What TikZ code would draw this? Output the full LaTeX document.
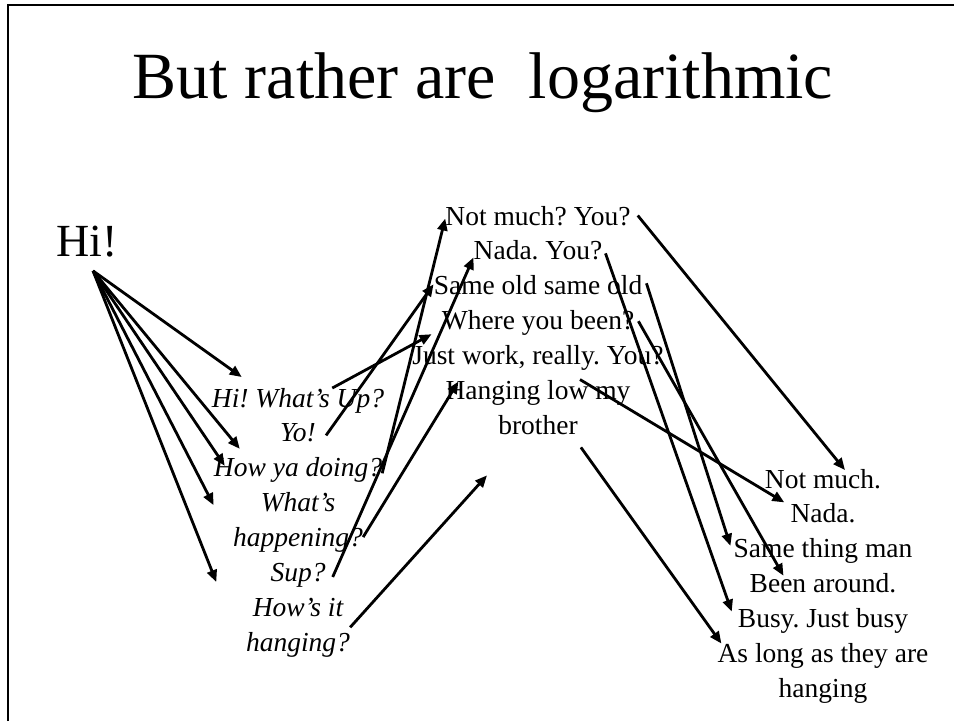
\documentclass[tikz,border=0pt]{standalone}
\usepackage{fontspec}
\setmainfont{Liberation Serif}
\usetikzlibrary{arrows.meta,positioning}
\frenchspacing

\begin{document}
\begin{tikzpicture}[
  x=1pt, y=-1pt,
  reply/.style={text height=20pt, text depth=7pt, inner xsep=0pt, inner ysep=3.75pt, font=\fontsize{27.5}{32}\selectfont},
  ask/.style={reply, font=\fontsize{27.5}{32}\selectfont\itshape},
  arrow/.style={-{Triangle[length=12pt,width=10pt]}, line width=2.8pt}
]
\useasboundingbox (0,0) rectangle (954,721);
\draw[line width=2.8pt] (8,721) -- (8,5) -- (954,5);

\node[anchor=base, font=\fontsize{66}{72}\selectfont] (title) at (483,98) {But rather are\ \ logarithmic};
\node[anchor=base, inner sep=0pt, font=\fontsize{46}{50}\selectfont] (hi) at (87,256) {Hi!};

\node[ask] (hwu) at (298,400.5) {Hi! What’s Up?};
\node[ask, below=0pt of hwu] (yo) {Yo!};
\node[ask, below=0pt of yo] (hyd) {How ya doing?};
\node[ask, below=0pt of hyd] (what) {What’s};
\node[ask, below=0pt of what] (happ) {happening?};
\node[ask, below=0pt of happ] (sup) {Sup?};
\node[ask, below=0pt of sup] (hows) {How’s it};
\node[ask, below=0pt of hows] (hang) {hanging?};

\node[reply] (nm) at (538,218.5) {Not much? You?};
\node[reply, below=0pt of nm] (nada) {Nada. You?};
\node[reply, below=0pt of nada] (same) {Same old same old};
\node[reply, below=0pt of same] (where) {Where you been?};
\node[reply, below=0pt of where] (jw) {Just work, really. You?};
\node[reply, below=0pt of jw] (hlm) {Hanging low my};
\node[reply, below=0pt of hlm] (bro) {brother};

\node[reply] (nmr) at (823,481.5) {Not much.};
\node[reply, below=0pt of nmr] (nadar) {Nada.};
\node[reply, below=0pt of nadar] (stm) {Same thing man};
\node[reply, below=0pt of stm] (ba) {Been around.};
\node[reply, below=0pt of ba] (bjb) {Busy. Just busy};
\node[reply, below=0pt of bjb] (alt) {As long as they are};
\node[reply, below=0pt of alt] (hgg) {hanging};

\coordinate (foot) at ([xshift=6pt,yshift=-14pt]hi.south);
\draw[arrow] (foot) -- ([xshift=30pt,yshift=6pt]hwu.north west);
\draw[arrow] (foot) -- ([xshift=26pt,yshift=4pt]hyd.north west);
\draw[arrow] (foot) -- ([xshift=11pt,yshift=-13pt]hyd.north west);
\draw[arrow] (foot) -- ([xshift=-47pt]what.west);
\draw[arrow] (foot) -- ([xshift=-54pt,yshift=-7pt]sup.west);

\draw[arrow] ([xshift=-52pt,yshift=-5pt]hwu.north east) -- ([xshift=-10pt,yshift=-11pt]where.west);
\draw[arrow] ([xshift=10pt]yo.east) -- ([yshift=4pt]same.west);
\draw[arrow] ([yshift=-3pt]hyd.east) -- (nm.west);
\draw[arrow] ([yshift=3pt]happ.east) -- ([xshift=13pt,yshift=-6pt]hlm.north west);
\draw[arrow] ([xshift=7pt,yshift=-2pt]sup.east) -- ([yshift=-4pt]nada.west);
\draw[arrow] (hang.north east) -- ([xshift=-51pt,yshift=-30pt]bro.south);

\draw[arrow] ([xshift=7pt,yshift=3pt]nm.east) -- ([xshift=22pt,yshift=-6pt]nmr.north);
\draw[arrow] ([xshift=3pt]nada.east) -- ([xshift=-6pt,yshift=-8pt]bjb.north west);
\draw[arrow] ([xshift=4pt,yshift=5pt]same.east) -- ([xshift=-3pt,yshift=-12pt]stm.north west);
\draw[arrow] ([xshift=4pt,yshift=2pt]where.east) -- ([xshift=34pt,yshift=-7pt]ba.north west);
\draw[arrow] ([xshift=42pt,yshift=-4pt]jw.south) -- ([xshift=-6pt,yshift=14pt]nadar.west);
\draw[arrow] ([xshift=3pt,yshift=-2pt]bro.south east) -- ([xshift=4pt,yshift=-5pt]alt.north west);
\end{tikzpicture}
\end{document}
